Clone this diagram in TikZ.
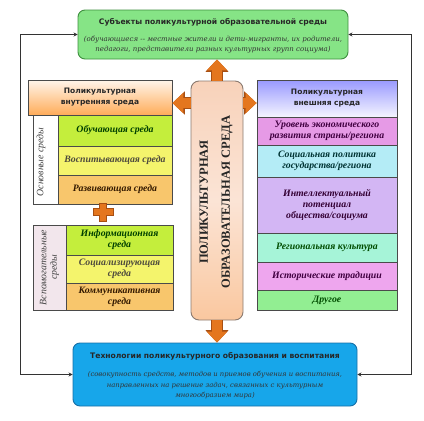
\documentclass[tikz,border=0pt]{standalone}
\usepackage{fontspec}
\setmainfont{DejaVu Sans}
\newfontfamily\djs{DejaVu Serif}
\newfontfamily\lserif{Liberation Serif}
\usetikzlibrary{arrows.meta}
\definecolor{topgreen}{HTML}{86E486}
\definecolor{topborder}{HTML}{3F8F3F}
\definecolor{botblue}{HTML}{17A6EA}
\definecolor{botborder}{HTML}{1670A8}
\definecolor{pillfill}{HTML}{F8D2BA}
\definecolor{pillborder}{HTML}{8A7A70}
\definecolor{orangeA}{HTML}{E4761E}
\definecolor{orangeB}{HTML}{A84F12}
\definecolor{gridline}{HTML}{4A4A4A}
\definecolor{rYG}{HTML}{C4EE3C}
\definecolor{rY}{HTML}{F4F46C}
\definecolor{rO}{HTML}{F8C66C}
\definecolor{rMag}{HTML}{E69AE6}
\definecolor{rCyan}{HTML}{B4ECF6}
\definecolor{rLav}{HTML}{D3B6F4}
\definecolor{rAqua}{HTML}{A6F4D8}
\definecolor{rPink}{HTML}{EEA6EE}
\definecolor{rGreen}{HTML}{92EE92}
\definecolor{vpink}{HTML}{F2E6EC}
\tikzset{
  cell/.style={draw=gridline, line width=0.8pt, inner sep=1pt, align=center,
    font=\lserif\bfseries\itshape\fontsize{9.8}{11.2}\selectfont, text=black!75},
  vcell/.style={cell},
  hdr/.style={draw=gridline, line width=0.8pt, align=center,
    font=\bfseries\fontsize{7.5}{11}\selectfont, text=black!85},
  bigbox/.style={rounded corners=7pt, line width=0.9pt, align=center, inner sep=2pt},
  conn/.style={draw=black!80, line width=1.2pt, {Stealth[length=4pt,width=4pt]}-{Stealth[length=4pt,width=4pt]}},
  blockarr/.style={line width=10pt, draw=orangeA, -{Triangle[width=20pt,length=11pt]},
    preaction={draw=orangeB, line width=11.6pt, -{Triangle[width=22.5pt,length=12.5pt]}}},
}
\begin{document}
\begin{tikzpicture}[x=1pt,y=-1pt]
\useasboundingbox (0,0) rectangle (424,421);

% top and bottom boxes
\node[bigbox, draw=topborder, fill=topgreen, minimum width=270pt, minimum height=49pt] (top) at (213,34.5) {};
\node[font=\bfseries\fontsize{7.6}{9}\selectfont, text=black!85] (toptitle) at (213,22.5) {Субъекты поликультурной образовательной среды};
\node[align=center, font=\djs\itshape\fontsize{7}{10}\selectfont, text=black!80] (toptext) at (213,45) {(обучающиеся -- местные жители и дети-мигранты, их родители,\\педагоги, представители разных культурных групп социума)};

\node[bigbox, draw=botborder, fill=botblue, minimum width=284pt, minimum height=63pt] (bot) at (215,374.5) {};
\node[font=\bfseries\fontsize{7.6}{9}\selectfont, text=black!85] (bottitle) at (215,356) {Технологии поликультурного образования и воспитания};
\node[align=center, font=\djs\itshape\fontsize{6.8}{10.5}\selectfont, text=black!80] (bottext) at (215,385.5) {(совокупность средств, методов и приемов обучения и воспитания,\\направленных на решение задач, связанных с культурным\\многообразием мира)};

% outer connectors
\draw[conn] (top.west) -- ++(-57,0) |- (bot.west);
\draw[conn] (top.east) -- ++(63,0) |- (bot.east);

% pill
\node[rounded corners=8pt, draw=pillborder, line width=0.9pt, left color=pillfill, right color=pillfill!80!orange!90, middle color=pillfill!60!white, shading angle=0, minimum width=52pt, minimum height=239pt] (pill) at (217,200.5) {};
\node[rotate=90, align=center, font=\lserif\bfseries\fontsize{12.5}{22}\selectfont, text=black!85] (pilltext) at (216,202) {ПОЛИКУЛЬТУРНАЯ\\ОБРАЗОВАТЕЛЬНАЯ СРЕДА};

% left header
\node[hdr, top color=orange!8, bottom color=orange!65, minimum width=144pt, minimum height=35pt] (lh) at (100,97.5) {Поликультурная\\внутренняя среда};
% left table 1
\node[vcell, fill=white, minimum width=25pt, minimum height=89pt] (lv1) at (45.5,159.5) {};
\node[rotate=90, font=\lserif\itshape\fontsize{9.8}{10}\selectfont, text=black!75] (lv1t) at (41,162) {Основные среды};
\node[cell, fill=rYG, minimum width=114pt, minimum height=31pt, text=green!25!black] (l1) at (115,130.5) {Обучающая среда};
\node[cell, fill=rY, minimum width=114pt, minimum height=29pt, text=yellow!20!black] (l2) at (115,160.5) {Воспитывающая среда};
\node[cell, fill=rO, minimum width=114pt, minimum height=29pt, text=orange!20!black] (l3) at (115,189.5) {Развивающая среда};

% plus sign
\path[fill=orangeA, draw=orangeB, line width=0.7pt]
  (99.5,203) -- (106.5,203) -- (106.5,208.5) -- (113,208.5) -- (113,215.5) -- (106.5,215.5) -- (106.5,221) -- (99.5,221) -- (99.5,215.5) -- (93,215.5) -- (93,208.5) -- (99.5,208.5) -- cycle;

% left table 2
\node[vcell, fill=vpink, minimum width=33pt, minimum height=85pt] (lv2) at (49.5,267.5) {};
\node[rotate=90, align=center, font=\lserif\itshape\fontsize{9.8}{10.5}\selectfont, text=black!75] (lv2t) at (49.5,267.5) {Вспомогательные\\среды};
\node[cell, fill=rYG, minimum width=107pt, minimum height=30pt, text=green!25!black] (m1) at (119.5,240) {Информационная\\среда};
\node[cell, fill=rY, minimum width=107pt, minimum height=28pt, text=yellow!20!black] (m2) at (119.5,269) {Социализирующая\\среда};
\node[cell, fill=rO, minimum width=107pt, minimum height=27pt, text=orange!20!black] (m3) at (119.5,296.5) {Коммуникативная\\среда};

% right header and rows
\node[hdr, top color=blue!40!white, bottom color=blue!4!white, minimum width=140pt, minimum height=37pt] (rh) at (327,98.5) {Поликультурная\\внешняя среда};
\node[cell, fill=rMag, minimum width=140pt, minimum height=28pt, text=violet!50!black] (r1) at (327,131) {Уровень экономического\\развития страны/региона};
\node[cell, fill=rCyan, minimum width=140pt, minimum height=32pt, text=teal!40!black] (r2) at (327,161) {Социальная политика\\государства/региона};
\node[cell, fill=rLav, minimum width=140pt, minimum height=56pt, text=violet!40!black] (r3) at (327,205) {Интеллектуальный\\потенциал\\общества/социума};
\node[cell, fill=rAqua, minimum width=140pt, minimum height=29pt, text=green!30!black] (r4) at (327,247.5) {Региональная культура};
\node[cell, fill=rPink, minimum width=140pt, minimum height=28pt, text=violet!50!black] (r5) at (327,276) {Исторические традиции};
\node[cell, fill=rGreen, minimum width=140pt, minimum height=20pt, text=green!30!black] (r6) at (327,300) {Другое};

% block arrows from the pill
\draw[blockarr] (pill.north) -- (pill.north |- top.south);
\draw[blockarr] (pill.south) -- (pill.south |- bot.north);
\draw[blockarr] (pill.west |- 0,103) -- (lh.east |- 0,103);
\draw[blockarr] (pill.east |- 0,103) -- (rh.west |- 0,103);
\end{tikzpicture}
\end{document}
